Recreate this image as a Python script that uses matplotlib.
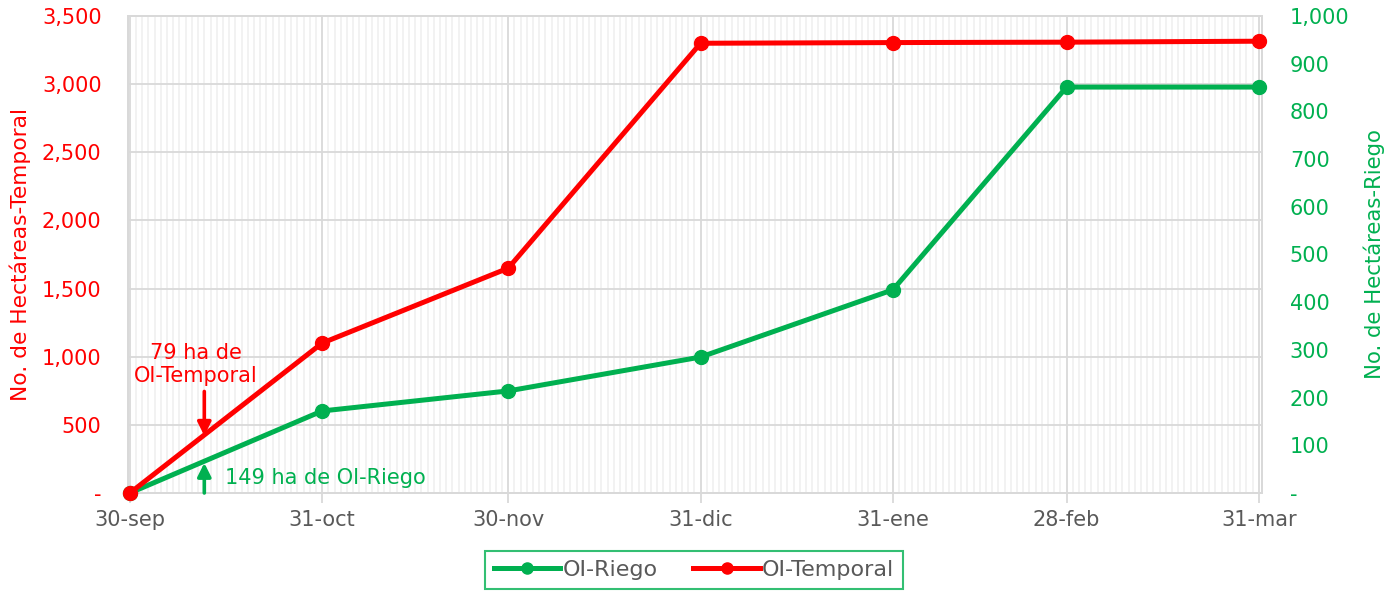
import matplotlib
matplotlib.use("Agg")
import matplotlib.pyplot as plt
import matplotlib.dates as mdates
from matplotlib.ticker import FixedLocator, FuncFormatter
import datetime as dt

plt.rcParams['font.family'] = ['DejaVu Sans']

# ---- data ----
dates = ["2022-09-30", "2022-10-31", "2022-11-30", "2022-12-31",
         "2023-01-31", "2023-02-28", "2023-03-31"]
tick_labels = ["30-sep", "31-oct", "30-nov", "31-dic", "31-ene", "28-feb", "31-mar"]
temporal = [0, 1100, 1650, 3300, 3305, 3308, 3315]
riego = [0, 172, 214, 285, 426, 851, 851]
annot_date = "2022-10-12"
annot_temporal_text = "79 ha de\nOI-Temporal"
annot_riego_text = "149 ha de OI-Riego"

RED = "#FF0000"
GREEN = "#00B050"
GREY = "#595959"
GRID = "#D9D9D9"
MINOR = "#F0F0F0"

xn = [mdates.date2num(dt.datetime.strptime(d, "%Y-%m-%d")) for d in dates]
xa = mdates.date2num(dt.datetime.strptime(annot_date, "%Y-%m-%d"))

fig = plt.figure(figsize=(13.93, 5.92), dpi=100)
ax = fig.add_axes([128/1393, 1-493/592, (1262-128)/1393, (493-16)/592])
ax2 = ax.twinx()

x0 = xn[0] - 0.3
x1 = xn[-1] + 0.5

# gridlines on bottom axes
ax.xaxis.set_major_locator(FixedLocator(xn))
ax.xaxis.set_major_formatter(FuncFormatter(lambda v, p: tick_labels[p] if p is not None and p < len(tick_labels) else ""))
minor_days = [xn[0] + i for i in range(int(x1 - xn[0]) + 1)]
ax.xaxis.set_minor_locator(FixedLocator(minor_days))
ax.grid(which='minor', axis='x', color=MINOR, linewidth=1.2, zorder=0)
ax.grid(which='major', axis='x', color=GRID, linewidth=1.3, zorder=0)
ax.grid(which='major', axis='y', color=GRID, linewidth=1.3, zorder=0)
ax.set_axisbelow(True)

ax.set_yticks(range(0, 3501, 500))
ax2.set_yticks(range(0, 1001, 100))
fmt = lambda v, p: "-" if v == 0 else f"{int(v):,}"
ax.yaxis.set_major_formatter(FuncFormatter(fmt))
ax2.yaxis.set_major_formatter(FuncFormatter(fmt))

ax.tick_params(axis='x', which='major', length=7, color=GRID, width=1.3,
               labelsize=15, labelcolor=GREY, pad=5)
ax.tick_params(axis='x', which='minor', length=0)
ax.tick_params(axis='y', length=0, labelsize=15, labelcolor=RED, pad=19)
ax2.tick_params(axis='y', length=0, labelsize=15, labelcolor=GREEN, pad=20)

for a in (ax, ax2):
    for s in a.spines.values():
        s.set_color(GRID)
        s.set_linewidth(1.3)

ax.set_ylabel("No. de Hectáreas-Temporal", color=RED, fontsize=15.7, labelpad=8)
ax2.set_ylabel("No. de Hectáreas-Riego", color=GREEN, fontsize=15.3, labelpad=10)

# lines, both drawn on the top axes; temporal uses the left-axis scale
lr, = ax2.plot(xn, riego, color=GREEN, lw=3.6, marker='o', ms=10, label="OI-Riego",
               zorder=3, clip_on=False)
lt, = ax2.plot(xn, temporal, color=RED, lw=3.6, marker='o', ms=10, label="OI-Temporal",
               zorder=4, clip_on=False, transform=ax.transData)

# annotations
ax2.annotate("", xy=(xa, 420), xytext=(xa, 745), xycoords=ax.transData, textcoords=ax.transData,
             arrowprops=dict(arrowstyle="-|>", color=RED, lw=2.6, mutation_scale=20,
                             shrinkA=0, shrinkB=0))
ax2.text(xa - 1.3, 940, annot_temporal_text, color=RED, fontsize=15,
         ha='center', va='center', linespacing=1.2, transform=ax.transData)
ax2.annotate("", xy=(xa, 63), xytext=(xa, 0),
             arrowprops=dict(arrowstyle="-|>", color=GREEN, lw=2.6, mutation_scale=20,
                             shrinkA=0, shrinkB=0))
ax2.text(xa + 3.3, 32, annot_riego_text, color=GREEN, fontsize=15,
         ha='left', va='center')

ax.set_xlim(x0, x1)
ax.set_ylim(0, 3500)
ax2.set_ylim(0, 1000)

leg = fig.legend(handles=[lr, lt], loc='center', bbox_to_anchor=(694/1393, 1-570/592),
                 ncol=2, frameon=True, fontsize=16, handlelength=3.0, columnspacing=1.6,
                 borderpad=0.4, handletextpad=0.1, fancybox=False, borderaxespad=0)
leg.get_frame().set_edgecolor(GREEN)
leg.get_frame().set_linewidth(1.5)
for t in leg.get_texts():
    t.set_color(GREY)
for h in leg.legend_handles:
    h.set_markersize(8)

fig.savefig("out.png", dpi=100)
